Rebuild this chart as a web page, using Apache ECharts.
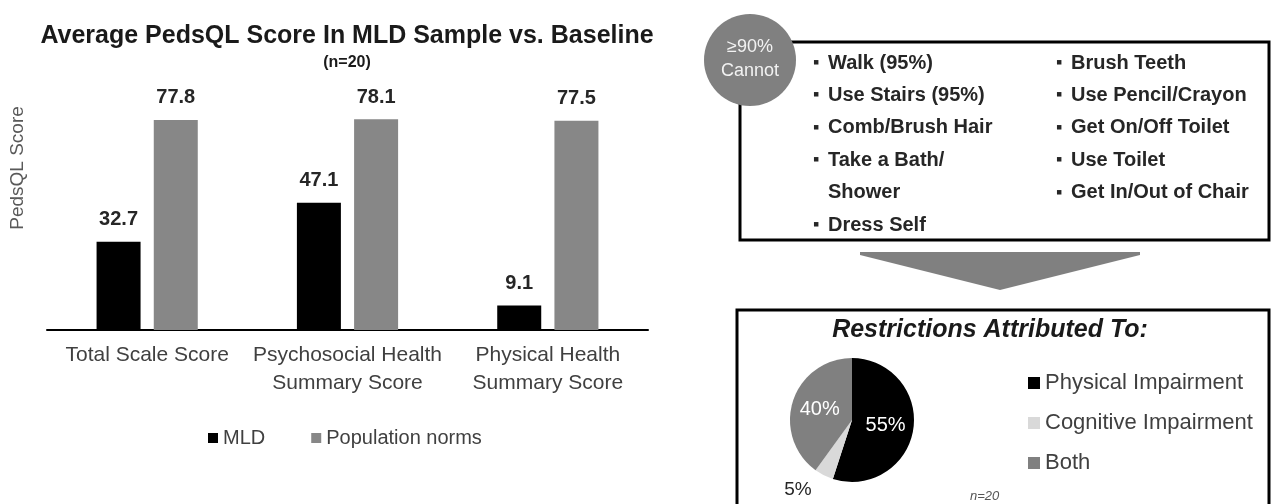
<!DOCTYPE html>
<html>
<head>
<meta charset="utf-8">
<script src="https://cdn.jsdelivr.net/npm/echarts@6/dist/echarts.min.js"></script>
<style>
  html, body { margin: 0; padding: 0; background: #fff; }
  #chart { width: 1273px; height: 504px; }
</style>
</head>
<body>
<div id="chart"></div>
<script>
// 数据 ==========================================
const categories = ['Total Scale Score', 'Psychosocial Health\nSummary Score', 'Physical Health\nSummary Score'];
const mldScores = [32.7, 47.1, 9.1];
const normScores = [77.8, 78.1, 77.5];

const cannotLeft = ['Walk (95%)', 'Use Stairs (95%)', 'Comb/Brush Hair', 'Take a Bath/', 'Shower', 'Dress Self'];
const cannotRight = ['Brush Teeth', 'Use Pencil/Crayon', 'Get On/Off Toilet', 'Use Toilet', 'Get In/Out of Chair'];

const pieNames = ['Physical Impairment', 'Cognitive Impairment', 'Both'];
const pieValues = [55, 5, 40];

const FONT = '"Liberation Sans", Arial, sans-serif';

// 右侧列表：项目符号 + 文字
function bulletTexts(items, x, y0, step) {
    const out = [];
    items.forEach((t, i) => {
        const y = y0 + i * step;
        if (t !== 'Shower') {
            out.push({ type: 'text', x: x, y: y, style: { text: '▪', font: 'bold 18px ' + FONT, fill: '#262626', verticalAlign: 'middle' } });
        }
        out.push({ type: 'text', x: x + 15, y: y, style: { text: t, font: 'bold 20px ' + FONT, fill: '#262626', verticalAlign: 'middle' } });
    });
    return out;
}

const chart = echarts.init(document.getElementById('chart'));

const option = {
    backgroundColor: '#fff',
    textStyle: { fontFamily: FONT },
    title: [{
        text: 'Average PedsQL Score In MLD Sample vs. Baseline',
        left: 342,
        textAlign: 'center',
        top: 19,
        textStyle: { fontSize: 25, fontWeight: 'bold', color: '#1a1a1a' }
    }, {
        text: '(n=20)',
        left: 342,
        textAlign: 'center',
        top: 50,
        textStyle: { fontSize: 16, fontWeight: 'bold', color: '#1a1a1a' }
    }, {
        text: 'n=20',
        left: 965,
        top: 485,
        textStyle: { fontSize: 13, fontStyle: 'italic', fontWeight: 'normal', color: '#555' }
    }],
    legend: [{
        data: ['MLD', 'Population norms'],
        left: 203,
        top: 423,
        itemWidth: 10,
        itemHeight: 10,
        itemGap: 46,
        icon: 'rect',
        textStyle: { fontSize: 20, color: '#404040' }
    }, {
        data: pieNames,
        orient: 'vertical',
        left: 1023,
        top: 367,
        itemWidth: 12,
        itemHeight: 12,
        itemGap: 18,
        icon: 'rect',
        textStyle: { fontSize: 22, color: '#404040' }
    }],
    grid: { left: 47, top: 6, width: 601, height: 324, containLabel: false },
    xAxis: {
        type: 'category',
        data: categories,
        axisLine: { lineStyle: { color: '#000', width: 2 } },
        axisTick: { show: false },
        axisLabel: { fontSize: 21, color: '#404040', margin: 11, lineHeight: 28, interval: 0 }
    },
    yAxis: {
        type: 'value',
        min: 0,
        max: 120,
        name: 'PedsQL Score',
        nameLocation: 'middle',
        nameRotate: 90,
        nameGap: 20,
        nameTextStyle: { fontSize: 19, color: '#595959' },
        axisLine: { show: false },
        axisTick: { show: false },
        axisLabel: { show: false },
        splitLine: { show: false }
    },
    series: [{
        name: 'MLD',
        type: 'bar',
        data: mldScores,
        barWidth: 44,
        barGap: '30%',
        itemStyle: { color: '#000' },
        label: { show: true, position: 'top', distance: 12, fontSize: 20, fontWeight: 'bold', color: '#262626' }
    }, {
        name: 'Population norms',
        type: 'bar',
        data: normScores,
        barWidth: 44,
        itemStyle: { color: '#878787' },
        label: { show: true, position: 'top', distance: 12, fontSize: 20, fontWeight: 'bold', color: '#262626' }
    }, {
        name: 'Restrictions',
        type: 'pie',
        center: [852, 420],
        radius: 62,
        startAngle: 90,
        clockwise: true,
        label: { show: true, position: 'inside', formatter: '{c}%', fontSize: 20, color: '#fff' },
        labelLine: { show: false },
        data: pieNames.map((n, i) => {
            const d = { name: n, value: pieValues[i] };
            if (i === 1) {
                d.label = { position: 'outside', color: '#262626', fontSize: 19 };
                d.labelLine = { show: false, length: 16, length2: 0 };
            }
            return d;
        }),
        color: ['#000', '#d9d9d9', '#808080']
    }],
    graphic: [
        // 上方方框
        { type: 'rect', shape: { x: 740, y: 42, width: 529, height: 198 }, style: { fill: 'none', stroke: '#000', lineWidth: 3 }, z: 1 },
        { type: 'circle', shape: { cx: 750, cy: 60, r: 46 }, style: { fill: '#808080' }, z: 3 },
        { type: 'text', x: 750, y: 47, style: { text: '≥90%', font: '18px ' + FONT, fill: '#f2f2f2', align: 'center', verticalAlign: 'middle' }, z: 4 },
        { type: 'text', x: 750, y: 71, style: { text: 'Cannot', font: '18px ' + FONT, fill: '#f2f2f2', align: 'center', verticalAlign: 'middle' }, z: 4 },
        ...bulletTexts(cannotLeft, 813, 63, 32.4),
        ...bulletTexts(cannotRight, 1056, 63, 32.4),
        // 箭头
        { type: 'polygon', shape: { points: [[860, 252], [1140, 252], [1140, 255], [1000, 290], [860, 255]] }, style: { fill: '#808080' }, z: 1 },
        // 下方方框
        { type: 'rect', shape: { x: 737, y: 310, width: 532, height: 210 }, style: { fill: 'none', stroke: '#000', lineWidth: 3 }, z: 1 },
        { type: 'text', x: 990, y: 330, style: { text: 'Restrictions Attributed To:', font: 'italic bold 25px ' + FONT, fill: '#1a1a1a', align: 'center', verticalAlign: 'middle' }, z: 4 }
    ]
};

chart.setOption(option);
window.addEventListener('resize', () => chart.resize());
</script>
</body>
</html>
